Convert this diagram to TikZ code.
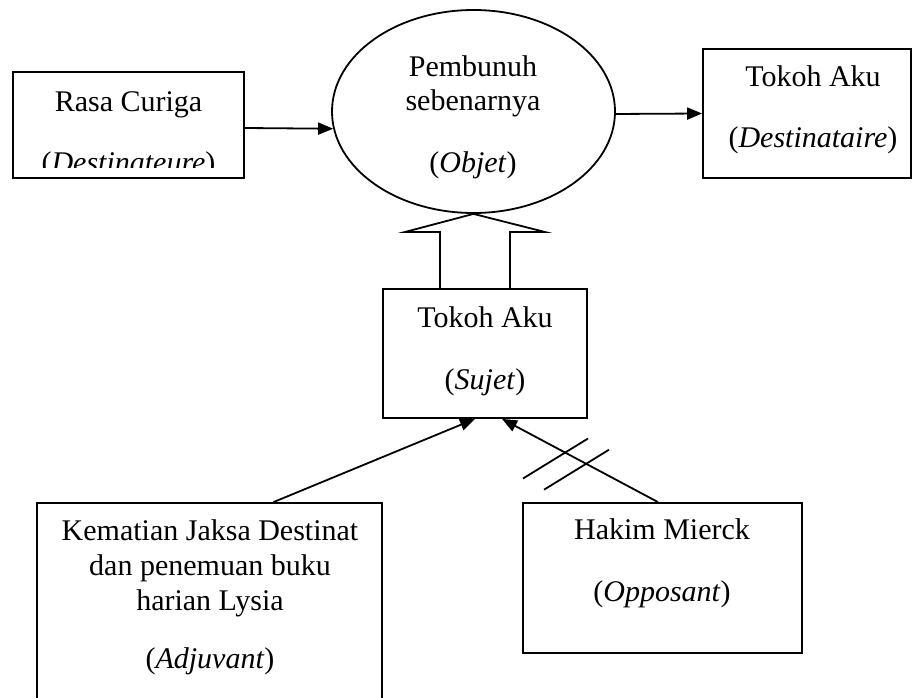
\documentclass[tikz,border=0pt]{standalone}
\usepackage{fontspec}
\setmainfont{Liberation Serif}
\usepackage{tikz}
\usetikzlibrary{arrows.meta,shapes.geometric,calc}

\begin{document}
\begin{tikzpicture}[x=1pt,y=-1pt,>={Triangle[length=15pt,width=12pt]},
		line width=1.8pt,font=\fontsize{30}{35}\selectfont]
		\tikzstyle{box}=[draw=black,rectangle,inner sep=0pt]
		\tikzstyle{txt}=[align=center,inner sep=0pt,anchor=base]
		\clip (0,0) rectangle (913,698);

		\node[box,minimum width=231pt,minimum height=106pt] (rasa) at (128.5,125) {};
		\node[draw=black,ellipse,inner sep=0pt,minimum width=283pt,minimum height=203pt] (objet) at (473.5,111.5) {};
		\node[box,minimum width=208pt,minimum height=129pt] (dest) at (807,113.5) {};
		\node[box,minimum width=204pt,minimum height=129pt] (sujet) at (485,353.5) {};
		\node[box,minimum width=345pt,minimum height=217pt] (kematian) at (209.5,611.5) {};
		\node[box,minimum width=279pt,minimum height=150pt] (hakim) at (662.5,578) {};

		% base of a multi-line node = its last line
		\begin{scope}
			\clip (13,72) rectangle (244,168);
			\node[txt] (rasatxt) at (128.5,172) {Rasa Curiga\\[26pt](\textit{Destinateure})};
		\end{scope}
		\node[txt] (objettxt) at (473,172) {Pembunuh\\[-1pt]sebenarnya\\[27pt](\textit{Objet})};
		\node[txt] (desttxt) at (813,147) {Tokoh Aku\\[25pt](\textit{Destinataire})};
		\node[txt] (sujettxt) at (485,389) {Tokoh Aku\\[27pt](\textit{Sujet})};
		\node[txt] (kematiantxt) at (210,668) {Kematian Jaksa Destinat\\dan penemuan buku\\harian Lysia\\[23pt](\textit{Adjuvant})};
		\node[txt] (hakimtxt) at (662,601) {Hakim Mierck\\[27pt](\textit{Opposant})};

		% hollow arrow sujet -> objet
		\draw (440,289) -- (440,232) -- (405,232) -- (objet.south) -- (545,232) -- (510,232) -- (510,289);

		\draw[->] ([yshift=-3pt]rasa.east) -- (objet.187);
		\draw[->] (objet.-1) -- (dest.west);
		\draw[->] ([xshift=64pt]kematian.north) -- ([xshift=-10pt]sujet.south);
		\draw[->] ([xshift=-4.5pt]hakim.north) coordinate (hstart) -- ([xshift=17pt]sujet.south) coordinate (htip);

		\coordinate (cut1) at ($(hstart)!0.596!(htip)$);
		\coordinate (cut2) at ($(hstart)!0.4615!(htip)$);
		\foreach \c in {cut1,cut2}
			\draw ($(\c)+(-42,26)$) -- ($(\c)+(23,-14)$);
\end{tikzpicture}
\end{document}
